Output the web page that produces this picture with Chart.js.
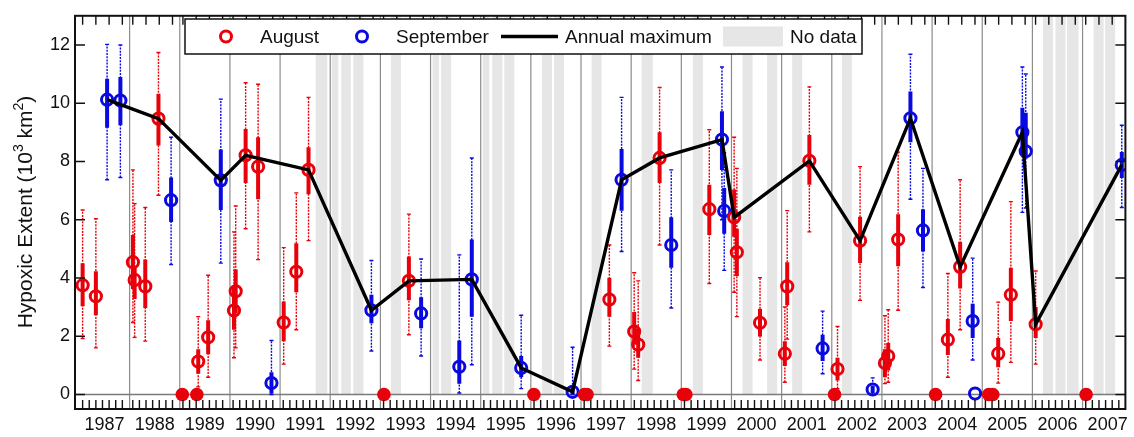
<!DOCTYPE html>
<html>
<head>
<meta charset="utf-8">
<script src="https://cdn.jsdelivr.net/npm/chart.js@4.4.1/dist/chart.umd.min.js"></script>
<style>
    html, body { margin: 0; padding: 0; background: #fff; }
    #wrap { width: 1134px; height: 437px; }
</style>
</head>
<body>
<div id="wrap"><canvas id="hypoxiaChart" width="1134" height="437"></canvas></div>
<script>
// x축: 연도 (소수부 = 조사 시기)
const years = [1987, 1988, 1989, 1990, 1991, 1992, 1993, 1994, 1995, 1996, 1997,
               1998, 1999, 2000, 2001, 2002, 2003, 2004, 2005, 2006, 2007];
const yTicks = [0, 2, 4, 6, 8, 10, 12];

// August cruises
const augX = [1987.063, 1987.327, 1988.066, 1988.10, 1988.312, 1988.575, 1989.368, 1989.566,
              1990.081, 1990.115, 1990.313, 1990.562, 1991.072, 1991.323, 1991.567, 1993.568,
              1997.565, 1998.06, 1998.14, 1998.567, 1999.558, 2000.053, 2000.107, 2000.569,
              2001.064, 2001.111, 2001.553, 2002.114, 2002.564, 2003.06, 2003.125, 2003.323,
              2004.314, 2004.559, 2005.318, 2005.57, 2006.065];
const augY = [3.75, 3.37, 4.54, 3.93, 3.71, 9.47, 1.13, 1.96,
              2.88, 3.54, 8.21, 7.82, 2.47, 4.21, 7.71, 3.9,
              3.26, 2.16, 1.71, 8.12, 6.36, 6.08, 4.88, 2.46,
              1.4, 3.71, 8.02, 0.87, 5.28, 1.08, 1.32, 5.32,
              1.88, 4.38, 1.4, 3.42, 2.41];
const augLo = [3.03, 2.72, 3.62, 3.28, 2.97, 8.55, 0.71, 1.38,
               2.22, 2.78, 7.26, 6.7, 1.83, 3.51, 6.87, 3.23,
               2.67, 1.71, 1.26, 7.26, 5.47, 5.41, 4.07, 1.99,
               0.98, 3.06, 7.2, 0.48, 4.51, 0.59, 0.82, 4.4,
               1.35, 3.64, 0.93, 2.52, 1.94];
const augHi = [4.5, 4.23, 5.47, 4.41, 4.63, 10.32, 1.55, 2.55,
               3.73, 4.29, 9.11, 8.83, 3.19, 5.19, 8.49, 4.74,
               4.01, 2.83, 2.27, 9.0, 7.2, 7.04, 5.69, 2.94,
               1.83, 4.54, 8.91, 1.26, 6.1, 1.55, 1.77, 6.19,
               2.59, 5.24, 1.94, 4.35, 3.0];
const augMin = [1.92, 1.6, 2.47, 1.96, 1.83, 6.84, 0.26, 0.59,
                1.26, 1.6, 5.69, 4.63, 1.04, 2.22, 5.28, 2.05,
                1.66, 0.87, 0.48, 5.13, 3.81, 3.51, 2.67, 1.18,
                0.42, 1.9, 5.58, 0.2, 3.23, 0.37, 0.42, 2.89,
                0.59, 2.22, 0.39, 1.1, 1.04];
const augMax = [6.33, 6.03, 7.71, 6.55, 6.42, 11.74, 2.67, 4.09,
                5.58, 6.47, 10.7, 10.65, 5.04, 6.92, 10.2, 6.19,
                5.13, 4.18, 3.9, 10.54, 9.09, 8.83, 7.76, 4.01,
                3.0, 6.31, 10.56, 2.33, 7.82, 2.7, 2.91, 8.32,
                4.15, 7.37, 3.17, 6.62, 4.24];

// August cruises with no hypoxia
const augZeroX = [1989.05, 1989.34, 1993.07, 1996.06, 1997.07, 1997.12, 1999.04, 1999.09,
                  2002.055, 2004.07, 2005.13, 2005.21, 2007.07];

// September cruises
const sepX = [1987.551, 1987.816, 1988.827, 1989.818, 1990.828, 1992.821, 1993.812, 1994.573,
              1994.822, 1995.807, 1996.832, 1997.809, 1998.799, 1999.81, 1999.855, 2001.817,
              2002.815, 2003.568, 2003.818, 2004.809, 2004.857, 2005.80, 2005.867, 2007.782];
const sepY = [10.12, 10.09, 6.67, 7.35, 0.39, 2.89, 2.78, 0.95,
              3.95, 0.91, 0.09, 7.37, 5.13, 8.75, 6.3, 1.58,
              0.17, 9.48, 5.63, 2.52, 0.03, 9.0, 8.35, 7.88];
const sepLo = [9.16, 9.24, 5.92, 6.33, 0.03, 2.44, 2.27, 0.37,
               2.67, 0.59, 0, 6.31, 4.35, 7.71, 5.52, 1.15,
               0.05, 8.66, 4.91, 1.94, null, 8.21, 8.1, 7.43];
const sepHi = [10.84, 10.9, 7.45, 8.41, 0.76, 3.42, 3.34, 1.85,
               5.32, 1.32, 0.3, 8.43, 6.08, 9.72, 7.09, 2.05,
               0.3, 10.4, 6.36, 3.11, null, 9.84, 9.67, 8.32];
const sepMin = [7.37, 7.45, 4.46, 4.51, 0, 1.49, 1.32, 0.05,
                1.02, 0.2, 0, 4.91, 2.97, 6.0, 4.26, 0.71,
                0, 6.7, 3.67, 1.18, null, 6.25, 6.4, 6.42];
const sepMax = [12.02, 12.0, 8.83, 10.14, 1.85, 4.6, 4.65, 4.79,
                8.12, 2.72, 1.62, 10.2, 7.71, 11.24, 8.3, 2.86,
                0.57, 11.68, 7.76, 4.68, null, 11.24, 11.0, 9.24];

// Annual maximum
const annualX = [1987.551, 1988.575, 1989.818, 1990.313, 1991.567, 1992.821, 1993.568,
                 1994.822, 1995.807, 1996.832, 1997.809, 1998.567, 1999.81, 2000.053,
                 2001.553, 2002.564, 2003.568, 2004.559, 2005.80, 2006.065, 2007.782];
const annualY = [10.12, 9.47, 7.35, 8.21, 7.71, 2.89, 3.9,
                 3.95, 0.91, 0.09, 7.37, 8.12, 8.75, 6.08,
                 8.02, 5.28, 9.48, 4.38, 9.0, 2.41, 7.88];

// No data 구간 (시작, 끝)
const noDataStart = [1991.71, 1992.03, 1992.22, 1992.46, 1993.21, 1994.04, 1994.21, 1995.04,
                     1995.23, 1995.47, 1996.22, 1996.46, 1997.21, 1998.21, 1999.23, 2000.22,
                     2000.71, 2001.21, 2002.20, 2006.21, 2006.46, 2006.69, 2007.22, 2007.45];
const noDataEnd   = [1991.94, 1992.16, 1992.41, 1992.66, 1993.41, 1994.17, 1994.41, 1995.17,
                     1995.43, 1995.67, 1996.42, 1996.66, 1997.41, 1998.43, 1999.43, 2000.42,
                     2000.91, 2001.41, 2002.40, 2006.41, 2006.66, 2006.92, 2007.42, 2007.65];

// 색상
const RED = '#e8000a';
const BLUE = '#0a0ae0';
const FONT = "'Liberation Sans', Arial, sans-serif";

// 오차 막대용 선분 (null 로 끊기)
function segments(xs, lo, hi) {
    const out = [];
    xs.forEach((x, i) => {
        if (lo[i] === null) return;
        out.push({ x: x, y: lo[i] }, { x: x, y: hi[i] }, { x: x, y: null });
    });
    return out;
}

function caps(xs, lo, hi) {
    const out = [];
    xs.forEach((x, i) => {
        if (lo[i] === null) return;
        out.push({ x: x, y: lo[i] }, { x: x, y: hi[i] });
    });
    return out;
}

function points(xs, ys) {
    return xs.map((x, i) => ({ x: x, y: ys[i] }));
}

// 배경, 테두리, 범례
const decorPlugin = {
    id: 'decor',
    beforeDatasetsDraw(chart) {
        const { ctx, chartArea: a, scales: { x, y } } = chart;
        const y0 = y.getPixelForValue(0);
        ctx.save();

        // no data
        ctx.fillStyle = '#e6e6e6';
        noDataStart.forEach((s, i) => {
            const x0 = x.getPixelForValue(s);
            const x1 = x.getPixelForValue(noDataEnd[i]);
            ctx.fillRect(x0, a.top, x1 - x0, y0 - a.top);
        });

        // 연도 경계선
        ctx.strokeStyle = '#8c8c8c';
        ctx.lineWidth = 1.2;
        for (let k = 1; k < years.length; k++) {
            const px = x.getPixelForValue(years[k]);
            ctx.beginPath();
            ctx.moveTo(px, a.top);
            ctx.lineTo(px, a.bottom);
            ctx.stroke();
        }

        // 0 기준선
        ctx.strokeStyle = '#7a7a7a';
        ctx.lineWidth = 1.6;
        ctx.beginPath();
        ctx.moveTo(a.left, y0);
        ctx.lineTo(a.right, y0);
        ctx.stroke();
        ctx.restore();
    },
    afterDatasetsDraw(chart) {
        const { ctx, chartArea: a, scales: { x, y } } = chart;
        ctx.save();
        ctx.strokeStyle = '#111';

        // 눈금
        ctx.lineWidth = 1.4;
        ctx.beginPath();
        years.forEach(yr => {
            for (let k = 0; k < 7; k++) {
                const px = x.getPixelForValue(yr + 0.063 + k * 0.132);
                if (px > a.right) continue;
                ctx.moveTo(px, a.bottom);
                ctx.lineTo(px, a.bottom - 9);
                if (k % 2 === 0) {
                    ctx.moveTo(px, a.top);
                    ctx.lineTo(px, a.top + 9);
                }
            }
        });
        yTicks.forEach(v => {
            const py = y.getPixelForValue(v);
            ctx.moveTo(a.left, py);
            ctx.lineTo(a.left + 10, py);
            ctx.moveTo(a.right, py);
            ctx.lineTo(a.right - 10, py);
        });
        ctx.stroke();

        // 테두리
        ctx.lineWidth = 2;
        ctx.strokeRect(a.left, a.top, a.right - a.left, a.bottom - a.top);
        ctx.restore();
    },
    afterDraw(chart) {
        const ctx = chart.ctx;
        ctx.save();

        // 범례
        const bx = 185, by = 19, bw = 677, bh = 35, cy = by + bh / 2;
        ctx.fillStyle = '#fff';
        ctx.fillRect(bx, by, bw, bh);
        ctx.strokeStyle = '#111';
        ctx.lineWidth = 1.5;
        ctx.strokeRect(bx, by, bw, bh);

        ctx.lineWidth = 3;
        ctx.strokeStyle = RED;
        ctx.beginPath();
        ctx.arc(226, cy, 5.5, 0, Math.PI * 2);
        ctx.stroke();
        ctx.strokeStyle = BLUE;
        ctx.beginPath();
        ctx.arc(362, cy, 5.5, 0, Math.PI * 2);
        ctx.stroke();
        ctx.strokeStyle = '#000';
        ctx.lineWidth = 3.4;
        ctx.beginPath();
        ctx.moveTo(501, cy);
        ctx.lineTo(558, cy);
        ctx.stroke();
        ctx.fillStyle = '#e6e6e6';
        ctx.fillRect(723, cy - 10, 60, 20);

        ctx.fillStyle = '#111';
        ctx.font = '19px ' + FONT;
        ctx.textBaseline = 'middle';
        ctx.textAlign = 'left';
        ctx.fillText('August', 260, cy + 1);
        ctx.fillText('September', 396, cy + 1);
        ctx.fillText('Annual maximum', 565, cy + 1);
        ctx.fillText('No data', 790, cy + 1);

        // y축 제목 (위첨자 포함)
        const parts = [
            ['Hypoxic Extent (10', 21, 0],
            ['3', 14, -7],
            [' km', 21, 0],
            ['2', 14, -7],
            [')', 21, 0]
        ];
        let total = 0;
        parts.forEach(p => {
            ctx.font = p[1] + 'px ' + FONT;
            total += ctx.measureText(p[0]).width;
        });
        ctx.translate(26, 212);
        ctx.rotate(-Math.PI / 2);
        let tx = -total / 2;
        parts.forEach(p => {
            ctx.font = p[1] + 'px ' + FONT;
            ctx.fillText(p[0], tx, p[2]);
            tx += ctx.measureText(p[0]).width;
        });
        ctx.restore();
    }
};

const lineBase = { showLine: true, pointRadius: 0, spanGaps: false, tension: 0 };

const healthChart = new Chart(document.getElementById('hypoxiaChart'), {
    type: 'scatter',
    data: {
        datasets: [
            Object.assign({ label: 'Annual maximum', data: points(annualX, annualY),
                borderColor: '#000', borderWidth: 3.4, borderJoinStyle: 'miter' }, lineBase),
            { label: 'no hypoxia', data: augZeroX.map(x => ({ x: x, y: 0 })),
                pointRadius: 6.8, backgroundColor: RED, borderWidth: 0 },
            { label: 'August', data: points(augX, augY),
                pointRadius: 5.6, borderWidth: 3, borderColor: RED, backgroundColor: 'rgba(0,0,0,0)' },
            { label: 'September', data: points(sepX, sepY),
                pointRadius: 5.6, borderWidth: 3, borderColor: BLUE, backgroundColor: 'rgba(0,0,0,0)' },
            Object.assign({ data: segments(augX, augLo, augHi), borderColor: RED, borderWidth: 4 }, lineBase),
            Object.assign({ data: segments(sepX, sepLo, sepHi), borderColor: BLUE, borderWidth: 4 }, lineBase),
            { data: caps(augX, augMin, augMax), pointStyle: 'line', pointRadius: 2,
                borderColor: RED, borderWidth: 1.4 },
            { data: caps(sepX, sepMin, sepMax), pointStyle: 'line', pointRadius: 2,
                borderColor: BLUE, borderWidth: 1.4 },
            Object.assign({ data: segments(augX, augMin, augMax), borderColor: RED, borderWidth: 1.4,
                borderDash: [2, 1.2] }, lineBase),
            Object.assign({ data: segments(sepX, sepMin, sepMax), borderColor: BLUE, borderWidth: 1.4,
                borderDash: [2, 1.2] }, lineBase)
        ]
    },
    options: {
        responsive: false,
        animation: false,
        events: [],
        layout: { padding: { top: 8, right: 2, left: 0, bottom: 0 } },
        plugins: {
            legend: { display: false },
            tooltip: { enabled: false }
        },
        scales: {
            x: {
                type: 'linear',
                min: 1986.911,
                max: 2007.854,
                grid: { display: false, drawTicks: false },
                border: { display: false },
                afterBuildTicks: scale => {
                    scale.ticks = years.map(yr => ({ value: yr + 0.5 }));
                },
                ticks: {
                    autoSkip: false,
                    maxRotation: 0,
                    padding: 5,
                    color: '#111',
                    font: { family: FONT, size: 18 },
                    callback: value => String(Math.floor(value))
                },
                afterFit: scale => { scale.height = 28; }
            },
            y: {
                min: -0.5,
                max: 13,
                grid: { display: false, drawTicks: false },
                border: { display: false },
                afterBuildTicks: scale => {
                    scale.ticks = yTicks.map(v => ({ value: v }));
                },
                ticks: {
                    padding: 5,
                    color: '#111',
                    font: { family: FONT, size: 18 }
                },
                afterFit: scale => { scale.width = 75; }
            }
        }
    },
    plugins: [decorPlugin]
});
</script>
</body>
</html>
